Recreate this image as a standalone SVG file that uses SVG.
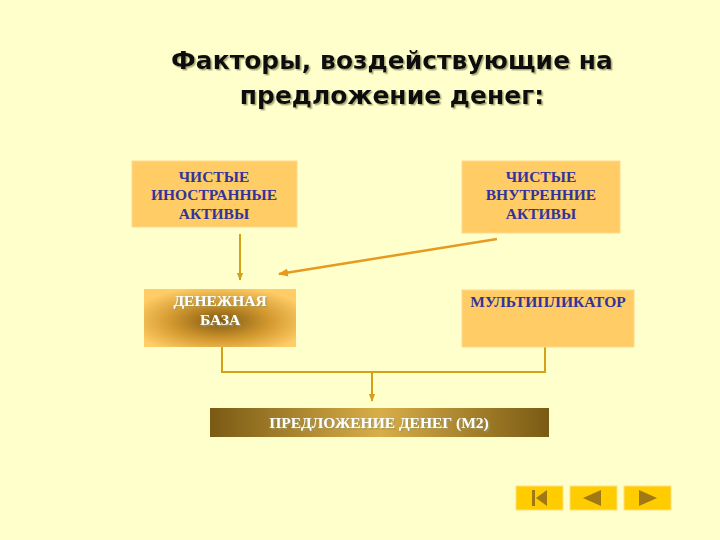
<svg xmlns="http://www.w3.org/2000/svg" width="720" height="540" viewBox="0 0 720 540">
<defs>
<style>
.title{font-family:"DejaVu Sans",Verdana,sans-serif;font-weight:bold;font-size:25px;text-anchor:middle}
.box{fill:#FFCC66;stroke:#FFD98C;stroke-width:1}
.bt{font-family:"Liberation Serif","Times New Roman",serif;font-weight:bold;font-size:15.5px;fill:#33339A;text-anchor:middle}
.wt{font-family:"Liberation Serif","Times New Roman",serif;font-weight:bold;font-size:15.5px;fill:#FFFFFF;text-anchor:middle}
.conn{fill:none;stroke:#D4A017;stroke-width:2}
.nav{fill:#FFCC00;stroke:#FFE080;stroke-width:1}
.ico{fill:#A07814}
</style>
<radialGradient id="rg" cx="0.5" cy="0.55" r="0.6">
<stop offset="0" stop-color="#805810"/>
<stop offset="0.55" stop-color="#D49A30"/>
<stop offset="1" stop-color="#FFCC66"/>
</radialGradient>
<linearGradient id="lg" x1="0" y1="0" x2="1" y2="0">
<stop offset="0" stop-color="#7A5A14"/>
<stop offset="0.5" stop-color="#D8AE48"/>
<stop offset="1" stop-color="#7A5A14"/>
</linearGradient>
<marker id="ah" viewBox="0 0 10 10" refX="9" refY="5" markerWidth="4" markerHeight="4" orient="auto">
<path d="M0,1 L10,5 L0,9 Z" fill="#D4A017"/>
</marker>
<marker id="ah2" viewBox="0 0 10 10" refX="9" refY="5" markerWidth="4" markerHeight="4" orient="auto">
<path d="M0,1 L10,5 L0,9 Z" fill="#E69A20"/>
</marker>
<filter id="sh" x="-10%" y="-10%" width="120%" height="130%">
<feDropShadow dx="1.5" dy="1.5" stdDeviation="0.5" flood-color="#999966" flood-opacity="0.8"/>
</filter>
</defs>
<rect width="720" height="540" fill="#FFFFCC"/>
<g id="title" filter="url(#sh)">
<text class="title" x="392" y="69" fill="#111111">Факторы, воздействующие на</text>
<text class="title" x="392" y="104" fill="#111111">предложение денег:</text>
</g>
<g id="connectors">
<line class="conn" x1="240" y1="234" x2="240" y2="280" marker-end="url(#ah)"/>
<line x1="497" y1="239" x2="279" y2="274" stroke="#E69A20" stroke-width="2.5" marker-end="url(#ah2)"/>
<path class="conn" d="M222,346 V372 H545 V346"/>
<line class="conn" x1="372" y1="372" x2="372" y2="401" marker-end="url(#ah)"/>
</g>
<g id="n1">
<rect class="box" x="132" y="161" width="165" height="66"/>
<text class="bt" x="214" y="182">ЧИСТЫЕ</text>
<text class="bt" x="214" y="200">ИНОСТРАННЫЕ</text>
<text class="bt" x="214" y="219">АКТИВЫ</text>
</g>
<g id="n2">
<rect class="box" x="462" y="161" width="158" height="72"/>
<text class="bt" x="541" y="182">ЧИСТЫЕ</text>
<text class="bt" x="541" y="200">ВНУТРЕННИЕ</text>
<text class="bt" x="541" y="219">АКТИВЫ</text>
</g>
<g id="n3">
<rect x="144" y="289" width="152" height="58" fill="url(#rg)"/>
<text class="wt" x="220" y="306" filter="url(#sh)">ДЕНЕЖНАЯ</text>
<text class="wt" x="220" y="325" filter="url(#sh)">БАЗА</text>
</g>
<g id="n4">
<rect class="box" x="462" y="290" width="172" height="57"/>
<text class="bt" x="548" y="307">МУЛЬТИПЛИКАТОР</text>
</g>
<g id="n5">
<rect x="210" y="408" width="339" height="29" fill="url(#lg)"/>
<text class="wt" x="379" y="428" filter="url(#sh)">ПРЕДЛОЖЕНИЕ ДЕНЕГ (М2)</text>
</g>
<g id="nav">
<rect class="nav" x="516" y="486" width="47" height="24"/>
<rect class="ico" x="532" y="490" width="3" height="16"/>
<polygon class="ico" points="536,498 547,490 547,506"/>
<rect class="nav" x="570" y="486" width="47" height="24"/>
<polygon class="ico" points="583,498 601,490 601,506"/>
<rect class="nav" x="624" y="486" width="47" height="24"/>
<polygon class="ico" points="657,498 639,490 639,506"/>
</g>
</svg>
